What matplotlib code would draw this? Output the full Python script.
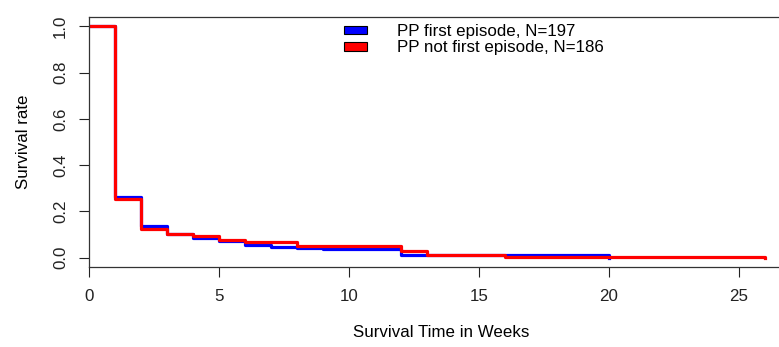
import matplotlib.pyplot as plt
from matplotlib.patches import Patch

plt.rcParams['font.family'] = ['Liberation Sans', 'DejaVu Sans']

# Kaplan-Meier step data (time in weeks, survival rate from that time on)
weeks_first = [0, 1, 2, 3, 4, 5, 6, 7, 8, 9, 12, 20]
surv_first = [1.0, 0.264, 0.138, 0.102, 0.086, 0.072, 0.053, 0.046, 0.040, 0.036, 0.013, 0.0]

weeks_not_first = [0, 1, 2, 3, 4, 5, 6, 8, 12, 13, 16, 26]
surv_not_first = [1.0, 0.254, 0.125, 0.102, 0.095, 0.078, 0.066, 0.050, 0.027, 0.010, 0.004, 0.0]

labels = ['PP first episode, N=197', 'PP not first episode, N=186']
colors = ['#0000ff', '#ff0000']
x_ticks = [0, 5, 10, 15, 20, 25]
y_ticks = [0.0, 0.2, 0.4, 0.6, 0.8, 1.0]

W, H = 779, 347
fs = 12.2
fig = plt.figure(figsize=(W / 100, H / 100), dpi=100)
# plot region runs past the right edge of the picture (cropped original)
left, right, top, bottom = 89, 793, 17, 267
ax = fig.add_axes([left / W, 1 - bottom / H, (right - left) / W, (bottom - top) / H])

ax.step(weeks_first, surv_first, where='post', color=colors[0], lw=2.3)
ax.step(weeks_not_first, surv_not_first, where='post', color=colors[1], lw=2.3)

ax.set_xlim(0, (right - left) / 26.0)
ax.set_ylim(-0.04, 1.04)
ax.set_xticks(x_ticks)
ax.set_yticks(y_ticks)
ax.set_xticklabels([str(t) for t in x_ticks])
ax.set_yticklabels([f'{v:.1f}' for v in y_ticks], rotation=90, va='center')
ax.tick_params(axis='both', direction='out', length=7, width=0.8, labelsize=fs, colors='#222222')
ax.tick_params(axis='x', pad=9)
ax.tick_params(axis='y', pad=8)
for s in ax.spines.values():
    s.set_linewidth(0.9)
    s.set_color('#333333')

ax.set_xlabel('Survival Time in Weeks', fontsize=fs, labelpad=15)
ax.set_ylabel('Survival rate', fontsize=fs, labelpad=16)

handles = [Patch(facecolor=c, edgecolor='black', linewidth=0.8) for c in colors]
fig.legend(handles, labels, loc='upper left', bbox_to_anchor=(344 / W, 1 - 24 / H),
           frameon=False, fontsize=fs, handlelength=1.35, handleheight=0.4,
           handletextpad=1.8, labelspacing=0.08, borderpad=0, borderaxespad=0)

fig.savefig('out.png', dpi=100)
